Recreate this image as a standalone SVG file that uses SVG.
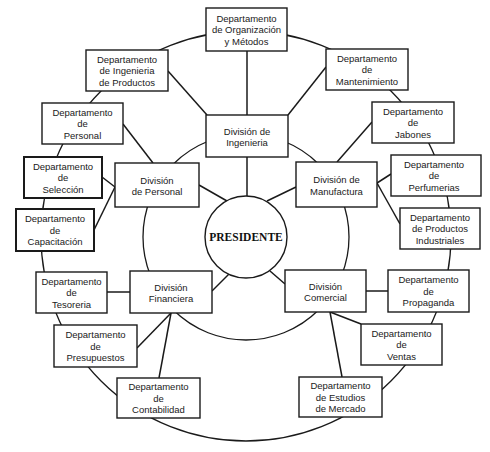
<svg xmlns="http://www.w3.org/2000/svg" width="490" height="452" viewBox="0 0 490 452">
<style>
.bg{fill:#fff}
.ring{fill:none;stroke:#1a1a1a;stroke-width:1.3}
.ln{stroke:#1a1a1a;stroke-width:1.5;fill:none}
.box{fill:#fff;stroke:#1a1a1a;stroke-width:1.4}
.bold{stroke-width:2}
.t{font-family:"Liberation Sans",Arial,sans-serif;font-size:9.5px;text-anchor:middle;fill:#1a1a1a}
.p{font-family:"Liberation Serif","Times New Roman",serif;font-size:11.5px;font-weight:bold;text-anchor:middle;fill:#111}
</style>
<rect class="bg" x="0" y="0" width="490" height="452"/>
<g id="rings">
<circle class="ring" cx="246" cy="236" r="205"/>
<circle class="ring" cx="246" cy="237" r="103"/>
</g>
<g id="connectors">
<line class="ln" x1="247" y1="51" x2="247" y2="115"/>
<line class="ln" x1="247" y1="157" x2="247" y2="196"/>
<line class="ln" x1="168" y1="71" x2="207" y2="115"/>
<line class="ln" x1="288" y1="115" x2="326" y2="67"/>
<line class="ln" x1="199" y1="185" x2="227" y2="201"/>
<line class="ln" x1="267" y1="201" x2="296" y2="187"/>
<line class="ln" x1="229" y1="274" x2="212" y2="291"/>
<line class="ln" x1="270" y1="271" x2="285" y2="284"/>
<line class="ln" x1="123" y1="124" x2="153" y2="163"/>
<line class="ln" x1="102" y1="177" x2="115" y2="187"/>
<line class="ln" x1="94" y1="230" x2="115" y2="187"/>
<line class="ln" x1="107" y1="292" x2="130" y2="292"/>
<line class="ln" x1="137" y1="348" x2="171" y2="313"/>
<line class="ln" x1="159" y1="378" x2="171" y2="313"/>
<line class="ln" x1="366" y1="291" x2="388" y2="291"/>
<line class="ln" x1="330" y1="312" x2="361" y2="324"/>
<line class="ln" x1="330" y1="312" x2="342" y2="377"/>
<line class="ln" x1="372" y1="122" x2="337" y2="162"/>
<line class="ln" x1="391" y1="174" x2="377" y2="183"/>
<line class="ln" x1="400" y1="224" x2="377" y2="183"/>
</g>
<g id="presidente">
<circle class="box" cx="246" cy="237" r="41"/>
<text class="p" x="246" y="241">PRESIDENTE</text>
</g>
<g id="org-metodos">
<rect class="box" x="206" y="8" width="81" height="43"/>
<text class="t" x="246.5" y="21.5">Departamento</text>
<text class="t" x="246.5" y="33">de Organización</text>
<text class="t" x="246.5" y="44.5">y Métodos</text>
</g>
<g id="ing-productos">
<rect class="box" x="86" y="50" width="82" height="41"/>
<text class="t" x="127" y="62.5">Departamento</text>
<text class="t" x="127" y="74">de Ingenieria</text>
<text class="t" x="127" y="85.5">de Productos</text>
</g>
<g id="mantenimiento">
<rect class="box" x="326" y="49" width="82" height="41"/>
<text class="t" x="367" y="61.5">Departamento</text>
<text class="t" x="367" y="73">de</text>
<text class="t" x="367" y="84.5">Mantenimiento</text>
</g>
<g id="dep-personal">
<rect class="box" x="42" y="103" width="81" height="41"/>
<text class="t" x="82.5" y="115.5">Departamento</text>
<text class="t" x="82.5" y="127">de</text>
<text class="t" x="82.5" y="138.5">Personal</text>
</g>
<g id="jabones">
<rect class="box" x="372" y="102" width="82" height="41"/>
<text class="t" x="413" y="114.5">Departamento</text>
<text class="t" x="413" y="126">de</text>
<text class="t" x="413" y="137.5">Jabones</text>
</g>
<g id="div-ingenieria">
<rect class="box" x="206" y="115" width="82" height="42"/>
<text class="t" x="247" y="134.5">División de</text>
<text class="t" x="247" y="146">Ingenieria</text>
</g>
<g id="seleccion">
<rect class="box bold" x="24" y="157" width="78" height="41"/>
<text class="t" x="63" y="169.5">Departamento</text>
<text class="t" x="63" y="181">de</text>
<text class="t" x="63" y="192.5">Selección</text>
</g>
<g id="div-personal">
<rect class="box" x="115" y="163" width="84" height="44"/>
<text class="t" x="157" y="183.5">División</text>
<text class="t" x="157" y="195">de Personal</text>
</g>
<g id="div-manufactura">
<rect class="box" x="296" y="162" width="81" height="45"/>
<text class="t" x="336.5" y="183">División de</text>
<text class="t" x="336.5" y="194.5">Manufactura</text>
</g>
<g id="perfumerias">
<rect class="box" x="391" y="155" width="90" height="41"/>
<text class="t" x="434" y="167.5">Departamento</text>
<text class="t" x="434" y="179">de</text>
<text class="t" x="434" y="190.5">Perfumerias</text>
</g>
<g id="capacitacion">
<rect class="box bold" x="16" y="209" width="78" height="42"/>
<text class="t" x="55" y="222">Departamento</text>
<text class="t" x="55" y="233.5">de</text>
<text class="t" x="55" y="245">Capacitación</text>
</g>
<g id="productos-industriales">
<rect class="box" x="400" y="208" width="80" height="41"/>
<text class="t" x="440" y="220.5">Departamento</text>
<text class="t" x="440" y="232">de Productos</text>
<text class="t" x="440" y="243.5">Industriales</text>
</g>
<g id="tesoreria">
<rect class="box" x="36" y="272" width="71" height="41"/>
<text class="t" x="71.5" y="284.5">Departamento</text>
<text class="t" x="71.5" y="296">de</text>
<text class="t" x="71.5" y="307.5">Tesoreria</text>
</g>
<g id="div-financiera">
<rect class="box" x="130" y="271" width="82" height="42"/>
<text class="t" x="171" y="290.5">División</text>
<text class="t" x="171" y="302">Financiera</text>
</g>
<g id="div-comercial">
<rect class="box" x="285" y="270" width="81" height="42"/>
<text class="t" x="325.5" y="289.5">División</text>
<text class="t" x="325.5" y="301">Comercial</text>
</g>
<g id="propaganda">
<rect class="box" x="388" y="270" width="81" height="42"/>
<text class="t" x="428.5" y="283">Departamento</text>
<text class="t" x="428.5" y="294.5">de</text>
<text class="t" x="428.5" y="306">Propaganda</text>
</g>
<g id="presupuestos">
<rect class="box" x="54" y="325" width="83" height="42"/>
<text class="t" x="95.5" y="338">Departamento</text>
<text class="t" x="95.5" y="349.5">de</text>
<text class="t" x="95.5" y="361">Presupuestos</text>
</g>
<g id="ventas">
<rect class="box" x="361" y="324" width="81" height="41"/>
<text class="t" x="401.5" y="336.5">Departamento</text>
<text class="t" x="401.5" y="348">de</text>
<text class="t" x="401.5" y="359.5">Ventas</text>
</g>
<g id="contabilidad">
<rect class="box" x="117" y="378" width="83" height="40"/>
<text class="t" x="158.5" y="390">Departamento</text>
<text class="t" x="158.5" y="401.5">de</text>
<text class="t" x="158.5" y="413">Contabilidad</text>
</g>
<g id="estudios-mercado">
<rect class="box" x="299" y="377" width="83" height="40"/>
<text class="t" x="340.5" y="389">Departamento</text>
<text class="t" x="340.5" y="400.5">de Estudios</text>
<text class="t" x="340.5" y="412">de Mercado</text>
</g>
</svg>
